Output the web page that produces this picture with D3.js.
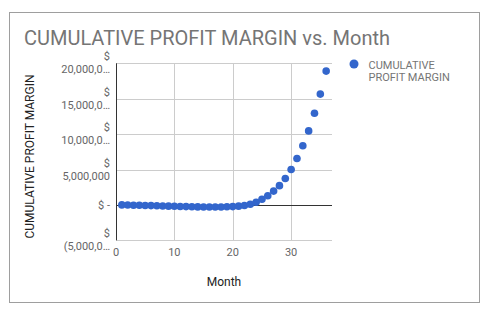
<!DOCTYPE html>
<html><head><meta charset="utf-8">
<script src="https://cdn.jsdelivr.net/npm/d3@7"></script>
<style>body{margin:0;background:#fff;}svg{display:block;font-family:Roboto,"Noto Sans",sans-serif;}</style>
</head><body><svg id="c" width="489" height="324"></svg>
<script>
const months = d3.range(1, 37);
const profitMargin = [0.0,-0.02,-0.04,-0.06,-0.08,-0.1,-0.13,-0.15,-0.18,-0.2,-0.22,-0.24,-0.26,-0.28,-0.29,-0.3,-0.3,-0.29,-0.27,-0.24,-0.18,-0.08,0.1,0.38,0.8,1.3,1.95,2.72,3.72,5.0,6.55,8.35,10.45,12.95,15.65,18.9].map(v=>v*1e6);
const yTicks = [-5e6, 0, 5e6, 10e6, 15e6, 20e6];
const yTickLabels = [["$","(5,000,0…"],["$ -"],["$","5,000,000"],["$","10,000,0…"],["$","15,000,0…"],["$","20,000,0…"]];
const xTicks = [0,10,20,30];
const title = "CUMULATIVE PROFIT MARGIN vs. Month";
const seriesName = ["CUMULATIVE","PROFIT MARGIN"];

const svg = d3.select("#c");
svg.append("rect").attr("x",9.5).attr("y",12.5).attr("width",470).attr("height",290).attr("fill","#fff").attr("stroke","#9e9e9e").attr("stroke-width",1);

const L=116,R=332,T=63.3,B=240.3;
const x = d3.scaleLinear().domain([0,37]).range([L,R]);
const y = d3.scaleLinear().domain([-5e6,20e6]).range([B,T]);

svg.append("text").attr("x",24).attr("y",45).attr("font-size",20).attr("fill","#757575").text(title);

// gridlines
const g = svg.append("g");
g.selectAll(".yg").data(yTicks).join("line").attr("x1",L).attr("x2",R)
 .attr("y1",d=>Math.round(y(d))+0.5).attr("y2",d=>Math.round(y(d))+0.5)
 .attr("stroke",d=>d===0?"#333":"#ccc").attr("stroke-width",1);
g.selectAll(".xg").data(xTicks.filter(d=>d>0)).join("line").attr("y1",T).attr("y2",B)
 .attr("x1",d=>Math.round(x(d))+0.5).attr("x2",d=>Math.round(x(d))+0.5).attr("stroke","#ccc");
svg.append("line").attr("x1",L).attr("x2",R).attr("y1",Math.round(y(0))+0.5).attr("y2",Math.round(y(0))+0.5).attr("stroke","#333");
svg.append("line").attr("x1",L+0.5).attr("x2",L+0.5).attr("y1",T).attr("y2",B).attr("stroke","#333");

// y tick labels
const yl = svg.append("g").attr("font-size",11).attr("fill","#666").attr("text-anchor","end");
yTicks.forEach((t,i)=>{
  const lines = yTickLabels[i];
  const cy = y(t);
  const te = yl.append("text").attr("x",110);
  if(lines.length===1){ te.append("tspan").attr("x",110).attr("y",cy+4).text(lines[0]); }
  else {
    te.append("tspan").attr("x",110).attr("y",cy-3).text(lines[0]);
    te.append("tspan").attr("x",110).attr("y",cy+10).text(lines[1]);
  }
});
// x tick labels
svg.append("g").attr("font-size",11).attr("fill","#666").attr("text-anchor","middle")
 .selectAll("text").data(xTicks).join("text").attr("x",d=>x(d)).attr("y",256).text(d=>d);

svg.append("text").attr("x",(L+R)/2).attr("y",286).attr("text-anchor","middle").attr("font-size",12).attr("fill","#222").text("Month");
svg.append("text").attr("transform",`translate(34,156.5) rotate(-90)`).attr("text-anchor","middle").attr("font-size",12).attr("fill","#222").text("CUMULATIVE PROFIT MARGIN");

// points
svg.append("g").selectAll("circle").data(months).join("circle")
 .attr("cx",(d)=>x(d)).attr("cy",(d,i)=>y(profitMargin[i])).attr("r",3.8).attr("fill","#3366cc");

// legend
svg.append("circle").attr("cx",354).attr("cy",64).attr("r",4.5).attr("fill","#3366cc");
svg.append("g").attr("font-size",11).attr("fill","#757575").selectAll("text").data(seriesName).join("text")
 .attr("x",368.5).attr("y",(d,i)=>68.5+i*12).text(d=>d);
</script></body></html>
